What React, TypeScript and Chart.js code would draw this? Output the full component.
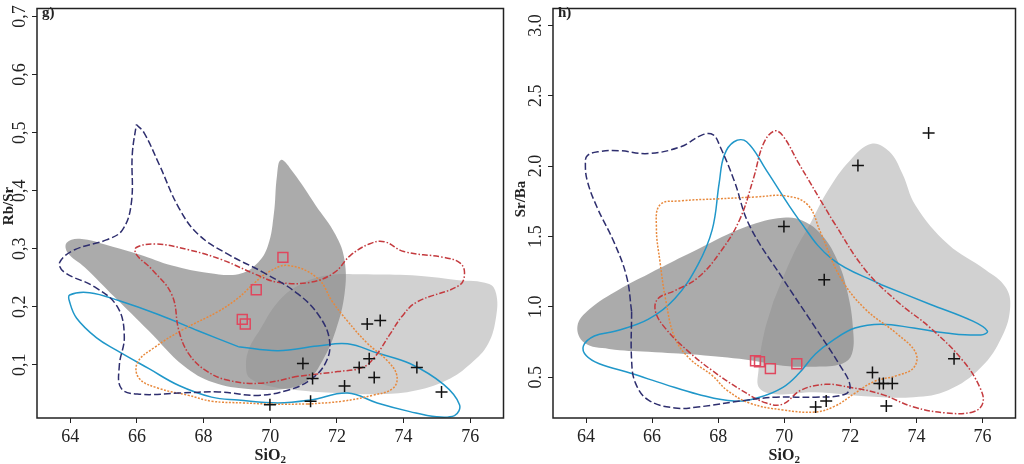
import React, { useEffect, useRef } from 'react';
import { Chart, registerables } from 'chart.js';

Chart.register(...registerables);

type P = [number, number];

const FONT = '"Liberation Serif", "Times New Roman", serif';

// ---------- shared axis data ----------
const xTicks = [64, 66, 68, 70, 72, 74, 76];

// ---------- panel g) Rb/Sr ----------
const gYTicks = [0.1, 0.2, 0.3, 0.4, 0.5, 0.6, 0.7];
const gYTickLabels = ['0,1', '0,2', '0,3', '0,4', '0,5', '0,6', '0,7'];

const gLightField: P[] = [
  [72.91, 0.256], [74.25, 0.254], [75.59, 0.246], [76.57, 0.239], [76.78, 0.222], [76.78, 0.183],
  [76.54, 0.136], [76.04, 0.103], [75.29, 0.073], [74.25, 0.054], [73.21, 0.049], [72.02, 0.051],
  [70.83, 0.056], [69.88, 0.064], [69.4, 0.076], [69.28, 0.09], [69.34, 0.124], [69.7, 0.161],
  [70.23, 0.208], [70.83, 0.236], [71.72, 0.254],
];

const gDarkField: P[] = [
  [66.36, 0.158], [65.32, 0.217], [64.43, 0.268], [63.92, 0.293], [63.89, 0.31], [64.28, 0.317],
  [65.17, 0.305], [66.07, 0.29], [67.05, 0.271], [68.15, 0.258], [69.04, 0.256], [69.58, 0.273],
  [69.93, 0.305], [70.11, 0.361], [70.2, 0.425], [70.32, 0.453], [70.68, 0.432], [71.36, 0.375],
  [71.96, 0.324], [72.23, 0.28], [72.23, 0.222], [71.96, 0.158], [71.57, 0.107], [71.13, 0.073],
  [70.53, 0.059], [69.34, 0.058], [68.3, 0.069], [67.4, 0.098],
];

const gNavy: P[] = [
  [65.98, 0.514], [66.21, 0.5], [66.66, 0.446], [67.26, 0.37], [67.85, 0.324], [68.74, 0.29],
  [69.79, 0.259], [70.83, 0.222], [71.48, 0.183], [71.78, 0.141], [71.66, 0.103], [71.18, 0.073],
  [70.53, 0.056], [69.64, 0.047], [68.45, 0.053], [67.26, 0.051], [66.07, 0.049], [65.53, 0.059],
  [65.47, 0.098], [65.62, 0.149], [65.41, 0.2], [64.73, 0.234], [63.83, 0.259], [63.68, 0.276],
  [64.13, 0.298], [65.08, 0.315], [65.56, 0.332], [65.83, 0.378], [65.86, 0.463],
];

const gRed: P[] = [
  [70.83, 0.08], [69.73, 0.068], [68.74, 0.073], [68.06, 0.09], [67.55, 0.119], [67.26, 0.158],
  [67.05, 0.22], [66.45, 0.264], [65.98, 0.29], [65.98, 0.302], [66.57, 0.308], [67.55, 0.298],
  [68.54, 0.281], [69.55, 0.256], [70.23, 0.242], [71.21, 0.242], [71.93, 0.259], [72.4, 0.288],
  [72.97, 0.308], [73.42, 0.312], [74.01, 0.295], [75.2, 0.285], [75.68, 0.276], [75.83, 0.259],
  [75.68, 0.237], [74.4, 0.208], [73.95, 0.183], [73.6, 0.153], [73.12, 0.112], [72.76, 0.095],
  [72.02, 0.088],
];

const gOrange: P[] = [
  [71.13, 0.032], [70.08, 0.032], [69.19, 0.034], [68.24, 0.037], [67.55, 0.047], [66.66, 0.059],
  [66.07, 0.076], [66.01, 0.103], [66.51, 0.129], [67.4, 0.161], [68.45, 0.192], [69.04, 0.215],
  [69.49, 0.239], [69.93, 0.259], [70.53, 0.271], [71.42, 0.249], [71.87, 0.208], [72.32, 0.175],
  [72.91, 0.137], [73.51, 0.107], [73.8, 0.081], [73.68, 0.059], [73.06, 0.047], [72.17, 0.037],
];

const gCyan: P[] = [
  [69.04, 0.131], [70.23, 0.124], [71.42, 0.132], [72.32, 0.136], [73.21, 0.12], [74.19, 0.102],
  [75.2, 0.066], [75.68, 0.031], [75.53, 0.012], [74.99, 0.01], [74.19, 0.019], [73.21, 0.034],
  [72.32, 0.051], [71.21, 0.039], [70.23, 0.034], [69.04, 0.039], [68.24, 0.044], [67.26, 0.064],
  [66.36, 0.093], [65.38, 0.125], [64.79, 0.146], [64.19, 0.18], [63.98, 0.208], [63.98, 0.22],
  [64.58, 0.224], [65.47, 0.21], [66.66, 0.186], [67.85, 0.158],
];

const gPlus: P[] = [
  [72.91, 0.17], [73.3, 0.176], [72.97, 0.11], [72.67, 0.095], [73.12, 0.078], [72.23, 0.063],
  [70.98, 0.102], [71.27, 0.076], [69.99, 0.031], [71.21, 0.037], [74.4, 0.095], [75.14, 0.053],
];

const gSquare: P[] = [
  [70.38, 0.285], [69.58, 0.229], [69.16, 0.178], [69.25, 0.17],
];

// ---------- panel h) Sr/Ba ----------
const hYTicks = [0.5, 1.0, 1.5, 2.0, 2.5, 3.0];
const hYTickLabels = ['0.5', '1.0', '1.5', '2.0', '2.5', '3.0'];

const hLightField: P[] = [
  [69.67, 1.038], [70.26, 1.367], [70.8, 1.598], [71.33, 1.83], [71.99, 2.04], [72.64, 2.159],
  [73.18, 2.103], [73.57, 1.949], [73.98, 1.718], [74.96, 1.444], [76.1, 1.262], [76.69, 1.143],
  [76.84, 1.003], [76.6, 0.793], [75.95, 0.568], [74.96, 0.407], [73.92, 0.358], [72.43, 0.365],
  [70.95, 0.393], [69.76, 0.379], [69.25, 0.421], [69.22, 0.547], [69.37, 0.793],
];

const hDarkField: P[] = [
  [67.38, 0.659], [65.89, 0.68], [64.7, 0.701], [63.95, 0.744], [63.74, 0.863], [64.1, 0.982],
  [64.99, 1.122], [65.89, 1.234], [67.38, 1.409], [68.86, 1.57], [69.96, 1.633], [70.56, 1.612],
  [71.15, 1.507], [71.63, 1.318], [71.93, 1.087], [72.08, 0.849], [72.05, 0.666], [71.75, 0.596],
  [70.95, 0.575], [69.96, 0.582], [68.86, 0.624],
];

const hNavy: P[] = [
  [65.38, 0.968], [65.23, 1.213], [64.85, 1.458], [64.34, 1.704], [64.04, 1.893], [63.98, 2.019],
  [64.04, 2.075], [64.4, 2.103], [64.99, 2.11], [65.89, 2.089], [66.87, 2.138], [67.52, 2.222],
  [67.85, 2.222], [68.06, 2.138], [68.48, 1.9], [68.95, 1.577], [69.96, 1.199], [70.95, 0.849],
  [71.69, 0.582], [71.99, 0.442], [71.84, 0.379], [70.95, 0.358], [69.76, 0.358], [68.86, 0.337],
  [67.38, 0.288], [66.69, 0.281], [65.89, 0.337], [65.5, 0.456], [65.38, 0.617],
];

const hCyan: P[] = [
  [72.94, 1.157], [74.43, 1.017], [75.71, 0.898], [76.15, 0.828], [75.95, 0.8], [74.9, 0.814],
  [73.92, 0.849], [72.94, 0.877], [72.14, 0.849], [71.45, 0.758], [70.95, 0.666], [70.44, 0.526],
  [69.96, 0.428], [69.25, 0.358], [68.48, 0.33], [67.38, 0.379], [66.39, 0.449], [65.38, 0.526],
  [64.4, 0.596], [64.01, 0.652], [63.92, 0.722], [64.25, 0.793], [64.9, 0.828], [65.89, 0.912],
  [66.69, 1.059], [67.38, 1.297], [67.82, 1.549], [68.03, 1.879], [68.18, 2.075], [68.48, 2.173],
  [68.86, 2.173], [69.46, 1.97], [70.44, 1.62], [71.45, 1.339],
];

const hRed: P[] = [
  [71.45, 1.619], [72.43, 1.269], [73.42, 1.038], [74.43, 0.849], [75.41, 0.617], [75.92, 0.428],
  [76.01, 0.316], [75.71, 0.253], [74.9, 0.246], [73.92, 0.288], [72.94, 0.379], [71.99, 0.428],
  [71.24, 0.449], [70.5, 0.407], [69.96, 0.309], [69.46, 0.316], [68.71, 0.407], [67.82, 0.547],
  [67.08, 0.687], [66.42, 0.842], [66.1, 0.968], [66.18, 1.059], [66.69, 1.115], [67.38, 1.206],
  [68.06, 1.388], [68.65, 1.619], [69.07, 1.914], [69.37, 2.159], [69.7, 2.25], [69.96, 2.215],
  [70.44, 2.019],
];

const hOrange: P[] = [
  [67.97, 1.767], [69.16, 1.781], [70.05, 1.788], [70.71, 1.725], [71.1, 1.528], [71.69, 1.213],
  [72.43, 0.989], [73.42, 0.807], [73.98, 0.673], [73.92, 0.568], [73.42, 0.512], [72.73, 0.47],
  [72.14, 0.386], [71.54, 0.295], [70.95, 0.253], [69.96, 0.267], [68.95, 0.316], [68.27, 0.407],
  [67.82, 0.512], [67.14, 0.631], [66.69, 0.779], [66.42, 1.038], [66.24, 1.318], [66.13, 1.563],
  [66.24, 1.725], [66.87, 1.753],
];

const hPlus: P[] = [
  [74.37, 2.236], [72.23, 2.005], [69.99, 1.57], [71.21, 1.192], [75.14, 0.631], [72.67, 0.533],
  [72.88, 0.456], [73.0, 0.456], [73.27, 0.456], [71.27, 0.33], [70.95, 0.288], [73.09, 0.295],
];

const hSquare: P[] = [
  [69.13, 0.617], [69.25, 0.61], [69.58, 0.561], [70.38, 0.596],
];

// ---------- styles ----------
const C_LIGHT = '#d1d1d1';
const C_DARK = 'rgba(138,138,138,0.72)';
const C_NAVY = '#2e2e6e';
const C_RED = '#c43a3e';
const C_ORANGE = '#e8893c';
const C_CYAN = '#2097c9';
const C_SQUARE = '#e0475e';
const C_AXIS = '#222';

// closed contours: repeat the first vertex at the end
const closed = (a: P[]) => [...a, a[0]].map(([x, y]) => ({ x, y }));
const pts = (a: P[]) => a.map(([x, y]) => ({ x, y }));

const fillDs = (data: P[], color: string, order: number) => ({
  data: closed(data), showLine: true, fill: 'shape', backgroundColor: color,
  borderWidth: 0, borderColor: 'rgba(0,0,0,0)', pointRadius: 0, tension: 0.4, order,
});

const lineDs = (data: P[], color: string, dash: number[]) => ({
  data: closed(data), showLine: true, fill: false, borderColor: color, borderWidth: 1.5,
  borderDash: dash, pointRadius: 0, tension: 0.4, order: 5,
});

const markDs = (data: P[], style: string, color: string, radius: number) => ({
  data: pts(data), showLine: false, pointStyle: style, pointRadius: radius,
  pointBorderColor: color, pointBackgroundColor: 'rgba(0,0,0,0)', pointBorderWidth: 1.5, order: 1,
});

interface PanelCfg {
  id: string;
  label: string;
  yTitle: string;
  yMin: number;
  yMax: number;
  yTicks: number[];
  yTickLabels: string[];
  yAxisWidth: number;
  padRight: number;
  yTitleY: number;
  datasets: any[];
}

const panels: PanelCfg[] = [
  {
    id: 'g', label: 'g)', yTitle: 'Rb/Sr', yMin: 0.008, yMax: 0.714,
    yTicks: gYTicks, yTickLabels: gYTickLabels, yAxisWidth: 37, padRight: 5, yTitleY: 206,
    datasets: [
      fillDs(gLightField, C_LIGHT, 10),
      fillDs(gDarkField, C_DARK, 9),
      lineDs(gNavy, C_NAVY, [7, 3]),
      lineDs(gRed, C_RED, [6, 2, 1.5, 2]),
      lineDs(gOrange, C_ORANGE, [2, 1.5]),
      lineDs(gCyan, C_CYAN, []),
      markDs(gSquare, 'rect', C_SQUARE, 7),
      markDs(gPlus, 'cross', '#111', 6),
    ],
  },
  {
    id: 'h', label: 'h)', yTitle: 'Sr/Ba', yMin: 0.21, yMax: 3.12,
    yTicks: hYTicks, yTickLabels: hYTickLabels, yAxisWidth: 41, padRight: 4, yTitleY: 199,
    datasets: [
      fillDs(hLightField, C_LIGHT, 10),
      fillDs(hDarkField, C_DARK, 9),
      lineDs(hNavy, C_NAVY, [7, 3]),
      lineDs(hRed, C_RED, [6, 2, 1.5, 2]),
      lineDs(hOrange, C_ORANGE, [2, 1.5]),
      lineDs(hCyan, C_CYAN, []),
      markDs(hSquare, 'rect', C_SQUARE, 7),
      markDs(hPlus, 'cross', '#111', 6),
    ],
  },
];

const makeDecor = (cfg: PanelCfg) => ({
  id: 'decor_' + cfg.id,
  afterDraw(chart: any) {
    const { ctx, chartArea: a, scales } = chart;
    ctx.save();
    // frame
    ctx.strokeStyle = C_AXIS;
    ctx.lineWidth = 1.5;
    ctx.strokeRect(a.left, a.top, a.right - a.left, a.bottom - a.top);
    ctx.fillStyle = C_AXIS;
    // rotated y tick labels
    ctx.font = `18px ${FONT}`;
    ctx.textAlign = 'center';
    ctx.textBaseline = 'middle';
    cfg.yTicks.forEach((v, i) => {
      const y = scales.y.getPixelForValue(v);
      ctx.save();
      ctx.translate(a.left - 17, y);
      ctx.rotate(-Math.PI / 2);
      ctx.fillText(cfg.yTickLabels[i], 0, 0);
      ctx.restore();
    });
    // y title
    ctx.font = `bold 15px ${FONT}`;
    ctx.textBaseline = 'alphabetic';
    ctx.save();
    ctx.translate(13, cfg.yTitleY);
    ctx.rotate(-Math.PI / 2);
    ctx.fillText(cfg.yTitle, 0, 0);
    ctx.restore();
    // x title SiO2
    const cx = (a.left + a.right) / 2;
    ctx.font = `bold 16px ${FONT}`;
    const w1 = ctx.measureText('SiO').width;
    ctx.font = `bold 11px ${FONT}`;
    const w2 = ctx.measureText('2').width;
    const sx = cx - (w1 + w2) / 2;
    ctx.textAlign = 'left';
    ctx.font = `bold 16px ${FONT}`;
    ctx.fillText('SiO', sx, 460);
    ctx.font = `bold 11px ${FONT}`;
    ctx.fillText('2', sx + w1, 463);
    // panel label
    ctx.font = `bold 15px ${FONT}`;
    ctx.fillText(cfg.label, a.left + 5, 17);
    ctx.restore();
  },
});

function Panel({ cfg, left }: { cfg: PanelCfg; left: number }) {
  const ref = useRef<HTMLCanvasElement>(null);
  useEffect(() => {
    const gridOpts = {
      drawOnChartArea: false, drawTicks: true, tickLength: 5, tickColor: C_AXIS, tickWidth: 1,
    };
    const chart = new Chart(ref.current as HTMLCanvasElement, {
      type: 'scatter',
      data: { datasets: cfg.datasets },
      options: {
        animation: false,
        responsive: false,
        devicePixelRatio: 1,
        events: [],
        layout: { padding: { top: 3, right: cfg.padRight, left: 0, bottom: 0 } },
        plugins: { legend: { display: false }, tooltip: { enabled: false } },
        scales: {
          x: {
            type: 'linear', min: 63, max: 77,
            afterBuildTicks: (s: any) => { s.ticks = xTicks.map((v) => ({ value: v })); },
            afterFit: (s: any) => { s.height = 46; },
            grid: gridOpts,
            border: { display: false },
            ticks: {
              font: { family: FONT, size: 18 }, color: C_AXIS, padding: 3,
              maxRotation: 0, autoSkip: false, callback: (v: any) => String(v),
            },
          },
          y: {
            type: 'linear', min: cfg.yMin, max: cfg.yMax,
            afterBuildTicks: (s: any) => { s.ticks = cfg.yTicks.map((v) => ({ value: v })); },
            afterFit: (s: any) => { s.width = cfg.yAxisWidth; },
            grid: gridOpts,
            border: { display: false },
            ticks: { display: false },
          },
        },
      } as any,
      plugins: [makeDecor(cfg)],
    });
    return () => chart.destroy();
  }, []);
  return (
    <canvas
      ref={ref}
      width={512}
      height={464}
      style={{ position: 'absolute', left, top: 0, width: 512, height: 464, display: 'block' }}
    />
  );
}

export default function App() {
  return (
    <div style={{ position: 'fixed', left: 0, top: 0, width: 1024, height: 464, background: '#fff', overflow: 'hidden' }}>
      <Panel cfg={panels[0]} left={0} />
      <Panel cfg={panels[1]} left={512} />
    </div>
  );
}
